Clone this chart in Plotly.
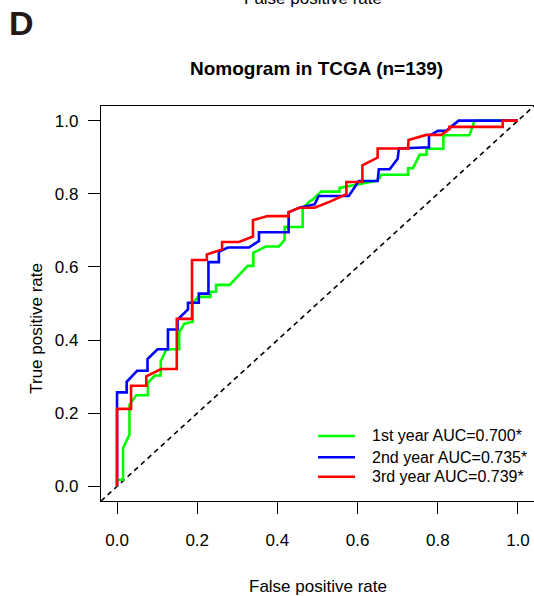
import plotly.graph_objects as go

# ---- data ----
fpr_1y = [0, 0, 0.015, 0.015, 0.031, 0.031, 0.048, 0.077, 0.077, 0.094, 0.109, 0.109, 0.123, 0.155,
          0.155, 0.168, 0.189, 0.189, 0.202, 0.233, 0.233, 0.247, 0.247, 0.281, 0.326, 0.340, 0.340,
          0.372, 0.404, 0.418, 0.418, 0.463, 0.463, 0.480, 0.488, 0.509, 0.555, 0.555, 0.650, 0.659,
          0.726, 0.726, 0.738, 0.755, 0.772, 0.772, 0.814, 0.814, 0.879, 0.892, 1.0]
tpr_1y = [0, 0.018, 0.018, 0.105, 0.141, 0.223, 0.249, 0.249, 0.283, 0.303, 0.303, 0.342, 0.375, 0.375,
          0.422, 0.445, 0.450, 0.500, 0.518, 0.518, 0.532, 0.532, 0.551, 0.551, 0.603, 0.603, 0.639,
          0.656, 0.656, 0.674, 0.709, 0.709, 0.761, 0.779, 0.784, 0.806, 0.806, 0.816, 0.836, 0.852,
          0.852, 0.870, 0.870, 0.907, 0.907, 0.923, 0.923, 0.960, 0.960, 1.0, 1.0]

fpr_2y = [0, 0, 0.024, 0.024, 0.050, 0.076, 0.076, 0.101, 0.127, 0.127, 0.151, 0.151, 0.177, 0.177,
          0.204, 0.204, 0.228, 0.228, 0.254, 0.254, 0.276, 0.329, 0.354, 0.354, 0.428, 0.428, 0.455,
          0.493, 0.503, 0.578, 0.603, 0.650, 0.653, 0.680, 0.700, 0.703, 0.778, 0.778, 0.800, 0.821,
          0.852, 1.0]
tpr_2y = [0, 0.257, 0.257, 0.286, 0.316, 0.316, 0.348, 0.375, 0.375, 0.429, 0.429, 0.456, 0.484, 0.502,
          0.502, 0.527, 0.527, 0.613, 0.613, 0.641, 0.653, 0.653, 0.671, 0.695, 0.695, 0.749, 0.762,
          0.771, 0.794, 0.794, 0.835, 0.835, 0.867, 0.867, 0.896, 0.924, 0.927, 0.958, 0.972, 0.972,
          1.0, 1.0]

fpr_3y = [0, 0, 0.035, 0.035, 0.073, 0.073, 0.110, 0.149, 0.149, 0.187, 0.187, 0.224, 0.224, 0.262,
          0.262, 0.304, 0.339, 0.339, 0.376, 0.428, 0.428, 0.455, 0.493, 0.534, 0.572, 0.572, 0.612,
          0.612, 0.650, 0.650, 0.726, 0.727, 0.771, 0.809, 0.829, 0.829, 0.962, 0.962, 1.0]
tpr_3y = [0, 0.212, 0.212, 0.275, 0.275, 0.301, 0.321, 0.321, 0.458, 0.458, 0.619, 0.619, 0.634, 0.648,
          0.668, 0.668, 0.683, 0.728, 0.739, 0.739, 0.750, 0.762, 0.762, 0.780, 0.799, 0.832, 0.832,
          0.878, 0.899, 0.924, 0.924, 0.947, 0.961, 0.961, 0.977, 0.983, 0.983, 1.0, 1.0]

series_names = ["1st year AUC=0.700*", "2nd year AUC=0.735*", "3rd year AUC=0.739*"]
series_colors = ["#00FF00", "#0000FF", "#FF0000"]
ref_line = [-0.04, 1.04]

tick_vals = [0.0, 0.2, 0.4, 0.6, 0.8, 1.0]
tick_text = ["0.0", "0.2", "0.4", "0.6", "0.8", "1.0"]

FONT = "Liberation Sans, Arial, sans-serif"

fig = go.Figure()
fig.add_trace(go.Scatter(x=ref_line, y=ref_line, mode="lines",
                         line=dict(color="black", width=1.6, dash="5px,4px"),
                         showlegend=False, hoverinfo="skip"))
for xs, ys, name, col in zip([fpr_1y, fpr_2y, fpr_3y], [tpr_1y, tpr_2y, tpr_3y],
                             series_names, series_colors):
    fig.add_trace(go.Scatter(x=xs, y=ys, mode="lines", name=name, showlegend=False,
                             line=dict(color=col, width=2.6)))

# manual legend in R style (line sample + label), placed in paper coordinates
legend_rows_y = [0.1646, 0.1106, 0.0615]
shapes = []
annotations = []
for name, col, ly in zip(series_names, series_colors, legend_rows_y):
    shapes.append(dict(type="line", xref="paper", yref="paper", x0=0.5012, x1=0.5866,
                       y0=ly, y1=ly, line=dict(color=col, width=2.6)))
    annotations.append(dict(text=name, x=0.621, y=ly, xref="paper", yref="paper",
                            showarrow=False, xanchor="left", yanchor="middle",
                            font=dict(family=FONT, size=16, color="black")))

axis_common = dict(range=[-0.04, 1.04], tickvals=tick_vals, ticktext=tick_text,
                   ticks="outside", ticklen=12, tickwidth=1.3, tickcolor="black",
                   showline=True, linecolor="black", linewidth=1.3,
                   showgrid=False, zeroline=False,
                   tickfont=dict(family=FONT, size=17, color="black"))

annotations += [
    dict(text="<b>Nomogram in TCGA (n=139)</b>", x=0.498, y=1.096, xref="paper", yref="paper",
         showarrow=False, xanchor="center", yanchor="middle",
         font=dict(family=FONT, size=19, color="black")),
    dict(text="<b>D</b>", x=-0.217, y=1.209, xref="paper", yref="paper",
         showarrow=False, xanchor="left", yanchor="middle",
         font=dict(family=FONT, size=34, color="#231815")),
    dict(text="False positive rate", x=0.501, y=-0.2154, xref="paper", yref="paper",
         showarrow=False, xanchor="center", yanchor="middle",
         font=dict(family=FONT, size=17, color="black")),
    dict(text="True positive rate", x=-0.148, y=0.4384, xref="paper", yref="paper",
         showarrow=False, xanchor="center", yanchor="middle", textangle=-90,
         font=dict(family=FONT, size=17, color="black")),
    dict(text="False positive rate", x=0.49, y=1.2734, xref="paper", yref="paper",
         showarrow=False, xanchor="center", yanchor="middle",
         font=dict(family=FONT, size=17, color="black")),
]

fig.update_layout(
    width=534, height=596,
    margin=dict(l=101, r=0, t=106, b=95),
    paper_bgcolor="white", plot_bgcolor="white",
    font=dict(family=FONT, color="black"),
    xaxis=dict(**axis_common, mirror=True, ticklabelstandoff=11),
    yaxis=dict(**axis_common, mirror=False, ticklabelstandoff=6),
    showlegend=False,
    shapes=shapes,
    annotations=annotations,
)

fig.write_html("out.html")
